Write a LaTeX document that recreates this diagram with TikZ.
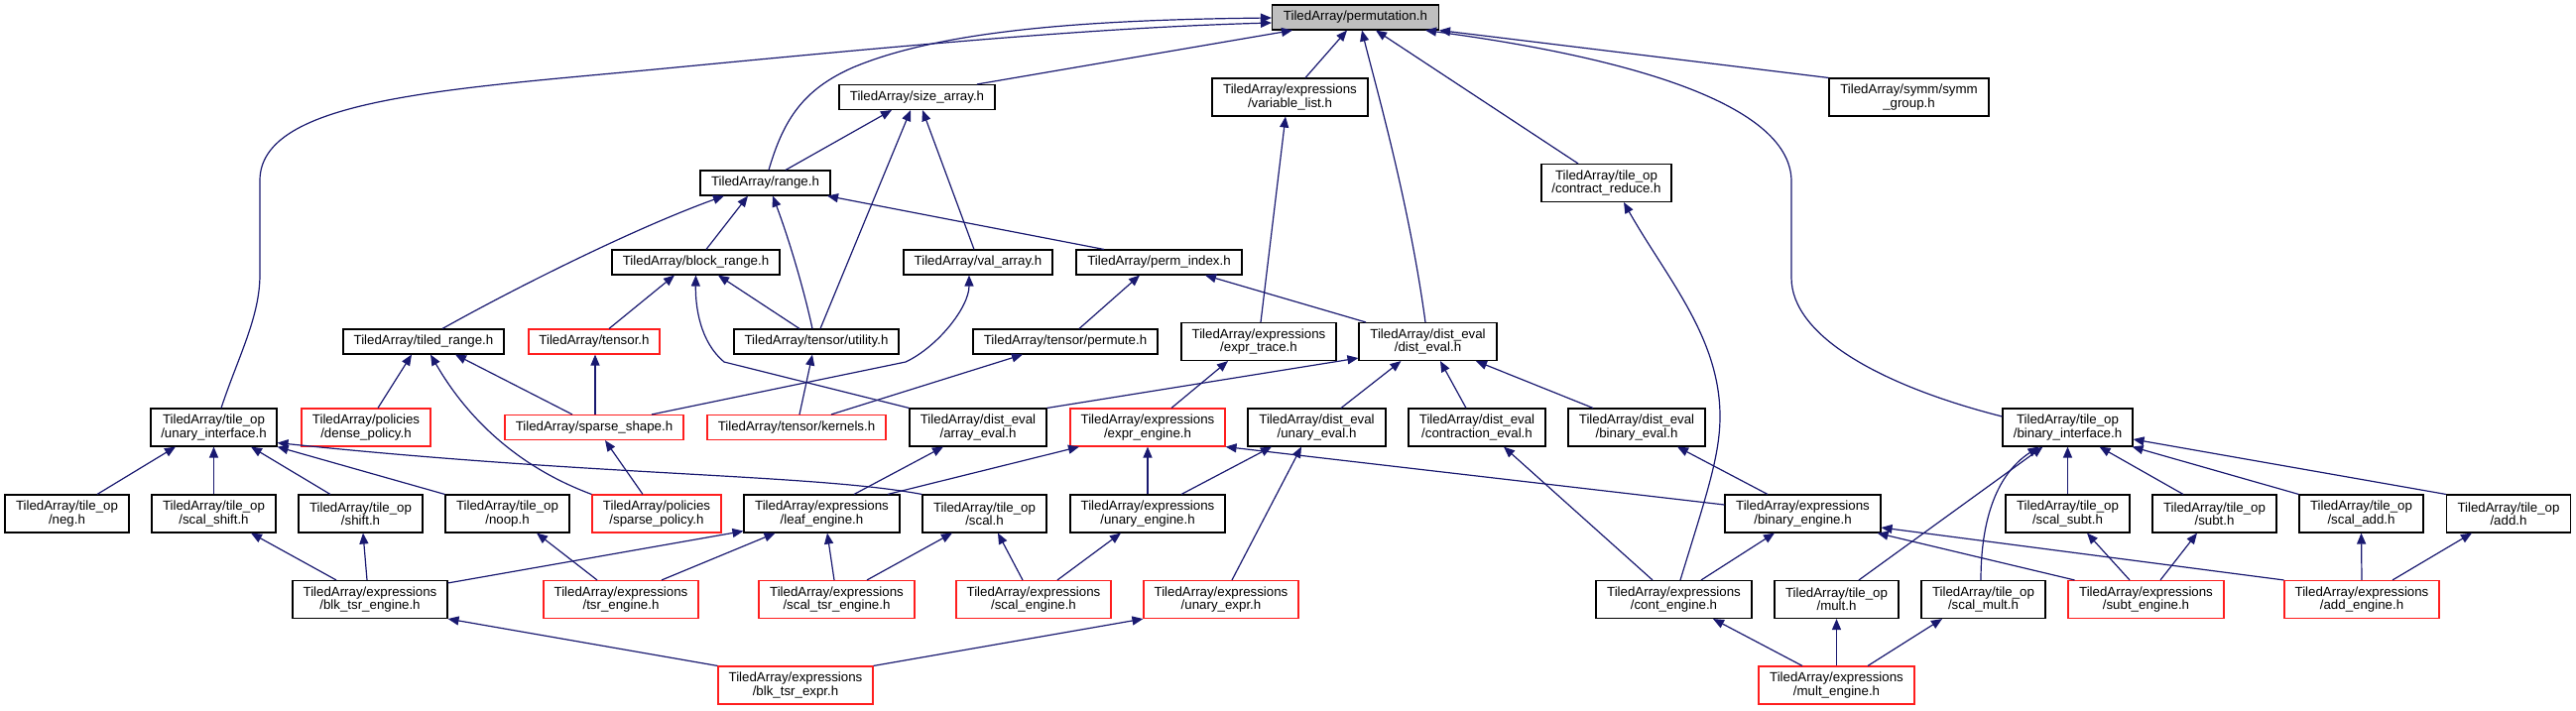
\documentclass[tikz,border=0pt]{standalone}
\usepackage{fontspec}
\newfontfamily\lab{Liberation Sans}
\usetikzlibrary{arrows.meta}
\definecolor{edgeblue}{RGB}{25,25,112}
\definecolor{boxred}{RGB}{255,30,30}
\definecolor{permgray}{RGB}{191,191,191}
\tikzset{
  nbox/.style={draw=black, line width=1.1pt, fill=white, minimum height=25pt, inner sep=0pt, align=center, font=\lab\fontsize{13.3pt}{13.4pt}\selectfont},
  rbox/.style={nbox, draw=boxred},
  two/.style={minimum height=38pt},
  conn/.style={draw=edgeblue, line width=1.2pt, -{Triangle[length=11pt,width=9pt]}},
}
\begin{document}
\begin{tikzpicture}[x=1pt,y=-1pt]
\useasboundingbox (0,0) rectangle (2597,716);
% rank 0
\node[nbox,fill=permgray,minimum width=168] (perm) at (1366.5,17.5) {TiledArray/permutation.h};
% rank 1
\node[nbox,minimum width=157] (size) at (924.5,98) {TiledArray/size\_array.h};
\node[nbox,two,minimum width=157] (varlist) at (1300.5,98) {TiledArray/expressions\\/variable\_list.h};
\node[nbox,two,minimum width=161] (symm) at (1924.5,98) {TiledArray/symm/symm\\\_group.h};
% rank 2
\node[nbox,minimum width=131] (range) at (771.5,184.5) {TiledArray/range.h};
\node[nbox,two,minimum width=131] (contred) at (1619.5,184.5) {TiledArray/tile\_op\\/contract\_reduce.h};
% rank 3
\node[nbox,minimum width=169] (blockr) at (701.5,264.5) {TiledArray/block\_range.h};
\node[nbox,minimum width=150] (valarr) at (986,264.5) {TiledArray/val\_array.h};
\node[nbox,minimum width=167] (permidx) at (1168.5,264.5) {TiledArray/perm\_index.h};
% rank 4
\node[nbox,minimum width=162] (tiledr) at (427,344.5) {TiledArray/tiled\_range.h};
\node[rbox,minimum width=132] (tensor) at (599,344.5) {TiledArray/tensor.h};
\node[nbox,minimum width=166] (util) at (823,344.5) {TiledArray/tensor/utility.h};
\node[nbox,minimum width=186] (permute) at (1074,344.5) {TiledArray/tensor/permute.h};
\node[nbox,two,minimum width=156] (exprtrace) at (1269,344.5) {TiledArray/expressions\\/expr\_trace.h};
\node[nbox,two,minimum width=139] (disteval) at (1439.5,344.5) {TiledArray/dist\_eval\\/dist\_eval.h};
% rank 5
\node[nbox,two,minimum width=127] (ui) at (215.5,431) {TiledArray/tile\_op\\/unary\_interface.h};
\node[rbox,two,minimum width=130] (dense) at (369,431) {TiledArray/policies\\/dense\_policy.h};
\node[rbox,minimum width=180] (sshape) at (599,431) {TiledArray/sparse\_shape.h};
\node[rbox,minimum width=180] (kernels) at (803,431) {TiledArray/tensor/kernels.h};
\node[nbox,two,minimum width=138] (arreval) at (986,431) {TiledArray/dist\_eval\\/array\_eval.h};
\node[rbox,two,minimum width=156] (exprengine) at (1157,431) {TiledArray/expressions\\/expr\_engine.h};
\node[nbox,two,minimum width=139] (unaryeval) at (1327.5,431) {TiledArray/dist\_eval\\/unary\_eval.h};
\node[nbox,two,minimum width=138] (contreval) at (1489,431) {TiledArray/dist\_eval\\/contraction\_eval.h};
\node[nbox,two,minimum width=138] (bineval) at (1650,431) {TiledArray/dist\_eval\\/binary\_eval.h};
\node[nbox,two,minimum width=131] (binif) at (2084.5,431) {TiledArray/tile\_op\\/binary\_interface.h};
% rank 6
\node[nbox,two,minimum width=125] (neg) at (67.5,518) {TiledArray/tile\_op\\/neg.h};
\node[nbox,two,minimum width=125] (scalshift) at (215.5,518) {TiledArray/tile\_op\\/scal\_shift.h};
\node[nbox,two,minimum width=125] (shift) at (363.5,518) {TiledArray/tile\_op\\/shift.h};
\node[nbox,two,minimum width=125] (noop) at (511.5,518) {TiledArray/tile\_op\\/noop.h};
\node[rbox,two,minimum width=130] (spolicy) at (662,518) {TiledArray/policies\\/sparse\_policy.h};
\node[nbox,two,minimum width=157] (leaf) at (828.5,518) {TiledArray/expressions\\/leaf\_engine.h};
\node[nbox,two,minimum width=125] (scal) at (992.5,518) {TiledArray/tile\_op\\/scal.h};
\node[nbox,two,minimum width=156] (unaryeng) at (1157,518) {TiledArray/expressions\\/unary\_engine.h};
\node[nbox,two,minimum width=157] (bineng) at (1817.5,518) {TiledArray/expressions\\/binary\_engine.h};
\node[nbox,two,minimum width=125] (scalsubt) at (2084.5,518) {TiledArray/tile\_op\\/scal\_subt.h};
\node[nbox,two,minimum width=125] (subt) at (2232.5,518) {TiledArray/tile\_op\\/subt.h};
\node[nbox,two,minimum width=125] (scaladd) at (2380.5,518) {TiledArray/tile\_op\\/scal\_add.h};
\node[nbox,two,minimum width=125] (add) at (2529,518) {TiledArray/tile\_op\\/add.h};
% rank 7
\node[nbox,two,minimum width=156] (bte) at (373,604.5) {TiledArray/expressions\\/blk\_tsr\_engine.h};
\node[rbox,two,minimum width=156] (tsre) at (626,604.5) {TiledArray/expressions\\/tsr\_engine.h};
\node[rbox,two,minimum width=157] (scaltsr) at (843.5,604.5) {TiledArray/expressions\\/scal\_tsr\_engine.h};
\node[rbox,two,minimum width=156] (scaleng) at (1042,604.5) {TiledArray/expressions\\/scal\_engine.h};
\node[rbox,two,minimum width=156] (unaryexpr) at (1231,604.5) {TiledArray/expressions\\/unary\_expr.h};
\node[nbox,two,minimum width=157] (conteng) at (1687.5,604.5) {TiledArray/expressions\\/cont\_engine.h};
\node[nbox,two,minimum width=125] (mult) at (1851.5,604.5) {TiledArray/tile\_op\\/mult.h};
\node[nbox,two,minimum width=125] (scalmult) at (1999.5,604.5) {TiledArray/tile\_op\\/scal\_mult.h};
\node[rbox,two,minimum width=157] (subteng) at (2163.5,604.5) {TiledArray/expressions\\/subt\_engine.h};
\node[rbox,two,minimum width=156] (addeng) at (2381,604.5) {TiledArray/expressions\\/add\_engine.h};
% rank 8
\node[rbox,two,minimum width=156] (btexpr) at (802,691) {TiledArray/expressions\\/blk\_tsr\_expr.h};
\node[rbox,two,minimum width=157] (multeng) at (1851.5,691) {TiledArray/expressions\\/mult\_engine.h};

% edges into permutation.h
\draw[conn] ([xshift=60.5pt]size.north) -- ([xshift=-63.5pt]perm.south);
\draw[conn] ([xshift=3.5pt]range.north) .. controls (790,120) and (810,90) .. (860,68) .. controls (950,30) and (1100,20) .. ([yshift=-0.5pt]perm.west);
\draw[conn] ([xshift=7.5pt]ui.north) .. controls (240,360) and (262,320) .. (262,277) -- (262,182) .. controls (262,100) and (450,90) .. (660,70) .. controls (900,47) and (1100,28) .. ([yshift=-5.5pt]perm.west);
\draw[conn] ([xshift=15.5pt]varlist.north) -- ([xshift=-8.5pt]perm.south);
\draw[conn] ([xshift=-2.5pt]disteval.north) .. controls (1420,200) and (1385,80) .. ([xshift=6.5pt]perm.south);
\draw[conn] ([xshift=-28.5pt]contred.north) -- ([xshift=20.5pt]perm.south);
\draw[conn] ([yshift=11pt]binif.west) .. controls (1900,390) and (1806,340) .. (1806,280) -- (1806,183) .. controls (1806,100) and (1620,55) .. ([xshift=70.5pt]perm.south);
\draw[conn] (symm.north west) -- (perm.south east);
% size_array
\draw[conn] ([xshift=20.5pt]range.north) -- ([xshift=-25.5pt]size.south);
\draw[conn] ([xshift=4pt]util.north) -- ([xshift=-6.5pt]size.south);
\draw[conn] ([xshift=-4pt]valarr.north) -- ([xshift=5.5pt]size.south);
% range
\draw[conn] ([xshift=19pt]tiledr.north) .. controls (520,290) and (640,230) .. ([xshift=-41.5pt]range.south);
\draw[conn] ([xshift=10.5pt]blockr.north) -- ([xshift=-17.5pt]range.south);
\draw[conn] ([xshift=-4pt]util.north) .. controls (810,290) and (795,240) .. ([xshift=7.5pt]range.south);
\draw[conn] ([xshift=-55.5pt]permidx.north) -- ([xshift=62.5pt]range.south);
% block_range
\draw[conn] ([xshift=15pt]tensor.north) -- ([xshift=-21.5pt]blockr.south);
\draw[conn] ([xshift=-17pt]util.north) -- ([xshift=22.5pt]blockr.south);
\draw[conn] (arreval.north west) -- (730,365) .. controls (706,345) and (701,310) .. (blockr.south);
% val_array, perm_index, variable_list, expr_trace
\draw[conn] ([xshift=58pt]sshape.north) -- (913,365) .. controls (945,350) and (977,310) .. ([xshift=-9pt]valarr.south);
\draw[conn] ([xshift=14pt]permute.north) -- ([xshift=-19.5pt]permidx.south);
\draw[conn] ([xshift=-62.5pt]disteval.north) -- ([xshift=46.5pt]permidx.south);
\draw[conn] ([xshift=2pt]exprtrace.north) -- ([xshift=-4.5pt]varlist.south);
\draw[conn] ([xshift=24pt]exprengine.north) -- ([xshift=-31pt]exprtrace.south);
% tiled_range, tensor, sparse_shape
\draw[conn] ([xshift=12pt]dense.north) -- ([xshift=-12pt]tiledr.south);
\draw[conn] ([xshift=-22pt]sshape.north) -- ([xshift=32pt]tiledr.south);
\draw[conn] ([xshift=1pt]sshape.north) -- ([xshift=1pt]tensor.south);
\draw[conn] (spolicy.north west) .. controls (520,470) and (470,420) .. ([xshift=7pt]tiledr.south);
\draw[conn] ([xshift=-14pt]spolicy.north) -- ([xshift=11pt]sshape.south);
% utility, permute
\draw[conn] ([xshift=3pt]kernels.north) -- ([xshift=-4pt]util.south);
\draw[conn] ([xshift=35pt]kernels.north) -- ([xshift=-43pt]permute.south);
% array_eval, expr_engine
\draw[conn] ([xshift=32.5pt]leaf.north) -- ([xshift=-35pt]arreval.south);
\draw[conn] ([xshift=66.5pt]leaf.north) -- ([xshift=-69pt]exprengine.south);
\draw[conn] (unaryeng.north) -- (exprengine.south);
\draw[conn] ([yshift=9pt]bineng.west) -- (exprengine.south east);
% dist_eval
\draw[conn] (arreval.north east) -- ([yshift=3pt]disteval.south west);
\draw[conn] ([xshift=24.5pt]unaryeval.north) -- ([xshift=-27pt]disteval.south);
\draw[conn] ([xshift=-11pt]contreval.north) -- ([xshift=12.5pt]disteval.south);
\draw[conn] ([xshift=-44pt]bineval.north) -- ([xshift=48.5pt]disteval.south);
% unary_eval, contraction_eval, contract_reduce, binary_eval
\draw[conn] ([xshift=34pt]unaryeng.north) -- ([xshift=-45.5pt]unaryeval.south);
\draw[conn] ([xshift=11pt]unaryexpr.north) -- ([xshift=-15.5pt]unaryeval.south);
\draw[conn] ([xshift=-21.5pt]conteng.north) -- ([xshift=27pt]contreval.south);
\draw[conn] ([xshift=6.5pt]conteng.north) .. controls (1720,500) and (1734,460) .. (1734,420) .. controls (1734,340) and (1680,280) .. ([xshift=17.5pt]contred.south);
\draw[conn] ([xshift=-35.5pt]bineng.north) -- ([xshift=41pt]bineval.south);
% binary_engine
\draw[conn] ([xshift=27.5pt]conteng.north) -- ([xshift=-28.5pt]bineng.south);
\draw[conn] ([xshift=7pt]subteng.north west) -- ([xshift=-4pt]bineng.south east);
\draw[conn] (addeng.north west) -- ([yshift=-14pt]bineng.east);
% mult_engine
\draw[conn] ([xshift=-34.5pt]multeng.north) -- ([xshift=39.5pt]conteng.south);
\draw[conn] (multeng.north) -- (mult.south);
\draw[conn] ([xshift=31.5pt]multeng.north) -- ([xshift=-41.5pt]scalmult.south);
% binary_interface
\draw[conn] ([xshift=22.5pt]mult.north) -- ([xshift=-25pt]binif.south);
\draw[conn] ([xshift=-2.5pt]scalmult.north) .. controls (1997,530) and (2010,480) .. ([xshift=-29pt]binif.south);
\draw[conn] (scalsubt.north) -- (binif.south);
\draw[conn] ([xshift=-31.5pt]subt.north) -- ([xshift=32pt]binif.south);
\draw[conn] (scaladd.north west) -- ([xshift=-1pt]binif.south east);
\draw[conn] (add.north west) -- ([yshift=-12pt]binif.east);
% subt / add engines
\draw[conn] ([xshift=-16.5pt]subteng.north) -- ([xshift=19.5pt]scalsubt.south);
\draw[conn] ([xshift=14.5pt]subteng.north) -- ([xshift=-17.5pt]subt.south);
\draw[conn] (addeng.north) -- (scaladd.south);
\draw[conn] ([xshift=31pt]addeng.north) -- ([xshift=-37pt]add.south);
% unary_interface
\draw[conn] ([xshift=30.5pt]neg.north) -- ([xshift=-38.5pt]ui.south);
\draw[conn] (scalshift.north) -- (ui.south);
\draw[conn] ([xshift=-30.5pt]shift.north) -- ([xshift=37.5pt]ui.south);
\draw[conn] (noop.north west) -- (ui.south east);
\draw[conn] (scal.north west) .. controls (820,478) and (600,480) .. ([yshift=4pt]ui.south east);
% lower engines
\draw[conn] ([xshift=-34pt]bte.north) -- ([xshift=37.5pt]scalshift.south);
\draw[conn] ([xshift=-3pt]bte.north) -- ([xshift=2.5pt]shift.south);
\draw[conn] ([xshift=-24pt]tsre.north) -- ([xshift=29.5pt]noop.south);
\draw[conn] ([yshift=-3pt]bte.north east) -- ([yshift=2pt]leaf.south west);
\draw[conn] ([xshift=41pt]tsre.north) -- ([xshift=-47pt]leaf.south);
\draw[conn] ([xshift=-2.5pt]scaltsr.north) -- ([xshift=5.5pt]leaf.south);
\draw[conn] ([xshift=30.5pt]scaltsr.north) -- ([xshift=-32.5pt]scal.south);
\draw[conn] ([xshift=-11pt]scaleng.north) -- ([xshift=13.5pt]scal.south);
\draw[conn] ([xshift=24pt]scaleng.north) -- ([xshift=-27pt]unaryeng.south);
\draw[conn] (btexpr.north east) -- (unaryexpr.south west);
\draw[conn] (btexpr.north west) -- (bte.south east);
\end{tikzpicture}
\end{document}
